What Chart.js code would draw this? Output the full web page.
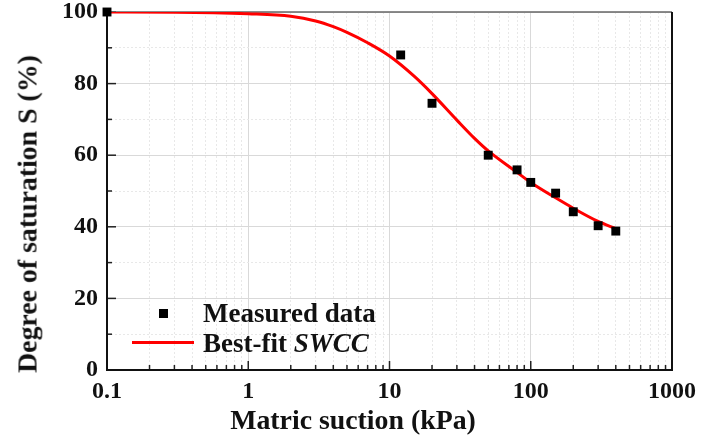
<!DOCTYPE html>
<html>
<head>
<meta charset="utf-8">
<script src="https://cdn.jsdelivr.net/npm/chart.js@4.4.1/dist/chart.umd.min.js"></script>
<style>
body { margin: 0; background: #fff; }
#lienzo { position: relative; width: 701px; height: 438px; font-family: "Liberation Serif", "Times New Roman", serif; font-weight: bold; color: #111; }
#lienzo canvas { position: absolute; left: 0; top: 0; }
.texto { position: absolute; white-space: nowrap; line-height: 1; }
#tituloX { left: 353px; top: 420px; font-size: 27px; transform: translate(-50%, -50%) scaleX(1.03); }
#tituloY { left: 28px; top: 214px; font-size: 27px; transform: translate(-50%, -50%) rotate(-90deg) scaleX(1.03); }
.ley { left: 203px; font-size: 27px; transform: translateY(-50%); }
#ley1 { top: 313px; }
#ley2 { top: 343px; }
#marcaCuadro { position: absolute; left: 159px; top: 309px; width: 9px; height: 9px; background: #000; }
#marcaLinea { position: absolute; left: 132px; top: 341px; width: 62px; height: 3px; background: #ff0000; }
</style>
</head>
<body>
<div id="lienzo">
  <canvas id="miGrafico" width="701" height="438"></canvas>
  <div class="texto" id="tituloX">Matric suction (kPa)</div>
  <div class="texto" id="tituloY">Degree of saturation S (%)</div>
  <div id="marcaCuadro"></div>
  <div class="texto ley" id="ley1">Measured data</div>
  <div id="marcaLinea"></div>
  <div class="texto ley" id="ley2">Best-fit <i>SWCC</i></div>
</div>
<script>
// Datos medidos
const succionMedida = [0.1, 12, 20, 50, 80, 100, 150, 200, 300, 400];
const saturacionMedida = [100, 88, 74.5, 60, 55.9, 52.4, 49.4, 44.2, 40.3, 38.8];

// Curva de ajuste
const succionAjuste = [0.1, 0.3, 1, 2, 3, 4, 5, 7, 10, 15, 20, 30, 40, 50, 80, 100, 150, 200, 300, 400];
const saturacionAjuste = [100, 99.95, 99.5, 98.8, 97.5, 95.9, 94.3, 91.4, 87.7, 82, 77.2, 69.8, 64.7, 61.2, 55.2, 52.4, 48.1, 45.2, 41.5, 39.5];

// Marcas de los ejes
const decadasX = [0.1, 1, 10, 100, 1000];
const multiplosX = [1, 2, 3, 4, 5, 6, 7, 8, 9];
const marcasY = [0, 10, 20, 30, 40, 50, 60, 70, 80, 90, 100];
const etiquetasY = [0, 20, 40, 60, 80, 100];

const fuente = { family: '"Liberation Serif", "Times New Roman", serif', size: 24, weight: 'bold' };

// Lista de marcas del eje x (decadas y divisiones menores)
const marcasX = [];
decadasX.forEach(d => {
    if (d === 1000) { marcasX.push(1000); return; }
    multiplosX.forEach(m => marcasX.push(Number((d * m).toPrecision(3))));
});

function esMayorX(v) { return decadasX.includes(v); }
function esMayorY(v) { return etiquetasY.includes(v); }

// Marco y marcas hacia dentro
const marcoPlugin = {
    id: 'marco',
    beforeDatasetsDraw(chart) {
        const { ctx, chartArea: a, scales } = chart;
        ctx.save();
        ctx.strokeStyle = '#222';
        ctx.lineWidth = 1.5;
        scales.x.ticks.forEach(t => {
            const px = scales.x.getPixelForValue(t.value);
            const largo = esMayorX(t.value) ? 9 : 5;
            ctx.beginPath();
            ctx.moveTo(px, a.bottom);
            ctx.lineTo(px, a.bottom - largo);
            ctx.stroke();
        });
        scales.y.ticks.forEach(t => {
            const py = scales.y.getPixelForValue(t.value);
            const largo = esMayorY(t.value) ? 9 : 5;
            ctx.beginPath();
            ctx.moveTo(a.left, py);
            ctx.lineTo(a.left + largo, py);
            ctx.stroke();
        });
        // bordes
        ctx.strokeStyle = '#666';
        ctx.lineWidth = 1.5;
        ctx.beginPath();
        ctx.moveTo(a.left, a.top);
        ctx.lineTo(a.right, a.top);
        ctx.stroke();
        ctx.strokeStyle = '#111';
        ctx.lineWidth = 2;
        ctx.beginPath();
        ctx.moveTo(a.right, a.top);
        ctx.lineTo(a.right, a.bottom);
        ctx.lineTo(a.left, a.bottom);
        ctx.lineTo(a.left, a.top);
        ctx.stroke();
        ctx.restore();
    }
};

const ctx = document.getElementById('miGrafico').getContext('2d');

new Chart(ctx, {
    data: {
        datasets: [{
            type: 'scatter',
            label: 'Measured data',
            data: succionMedida.map((x, i) => ({ x: x, y: saturacionMedida[i] })),
            pointStyle: 'rect',
            pointRadius: 6.3,
            pointBackgroundColor: '#000',
            pointBorderWidth: 0,
            clip: false
        }, {
            type: 'line',
            label: 'Best-fit SWCC',
            data: succionAjuste.map((x, i) => ({ x: x, y: saturacionAjuste[i] })),
            borderColor: '#ff0000',
            borderWidth: 3,
            pointRadius: 0,
            cubicInterpolationMode: 'monotone',
            fill: false
        }]
    },
    options: {
        responsive: false,
        animation: false,
        devicePixelRatio: 1,
        layout: { padding: { left: 0, right: 29, top: 12, bottom: 0 } },
        plugins: {
            legend: { display: false },
            tooltip: { enabled: false }
        },
        scales: {
            x: {
                type: 'logarithmic',
                min: 0.1,
                max: 1000,
                afterBuildTicks: (s) => { s.ticks = marcasX.map(v => ({ value: v, major: esMayorX(v) })); },
                afterFit: (s) => { s.height = 68; s.paddingLeft = 0; s.paddingRight = 0; s.paddingTop = 0; s.paddingBottom = 0; },
                ticks: {
                    autoSkip: false,
                    maxRotation: 0,
                    padding: 7,
                    color: '#111',
                    font: fuente,
                    callback: (v) => esMayorX(v) ? String(v) : ''
                },
                grid: {
                    drawTicks: false,
                    color: (c) => esMayorX(c.tick.value) ? '#d9d9d9' : '#e8e8e8',
                    lineWidth: 1
                },
                border: {
                    display: false,
                    dash: (c) => esMayorX(c.tick.value) ? [] : [2, 2]
                }
            },
            y: {
                type: 'linear',
                min: 0,
                max: 100,
                afterBuildTicks: (s) => { s.ticks = marcasY.map(v => ({ value: v })); },
                afterFit: (s) => { s.width = 107; s.paddingLeft = 0; s.paddingRight = 0; s.paddingTop = 0; s.paddingBottom = 0; },
                ticks: {
                    autoSkip: false,
                    padding: 9,
                    color: '#111',
                    font: fuente,
                    callback: (v) => esMayorY(v) ? String(v) : ''
                },
                grid: {
                    drawTicks: false,
                    color: (c) => esMayorY(c.tick.value) ? '#d9d9d9' : '#e8e8e8',
                    lineWidth: 1
                },
                border: {
                    display: false,
                    dash: (c) => esMayorY(c.tick.value) ? [] : [2, 2]
                }
            }
        }
    },
    plugins: [marcoPlugin]
});
</script>
</body>
</html>
